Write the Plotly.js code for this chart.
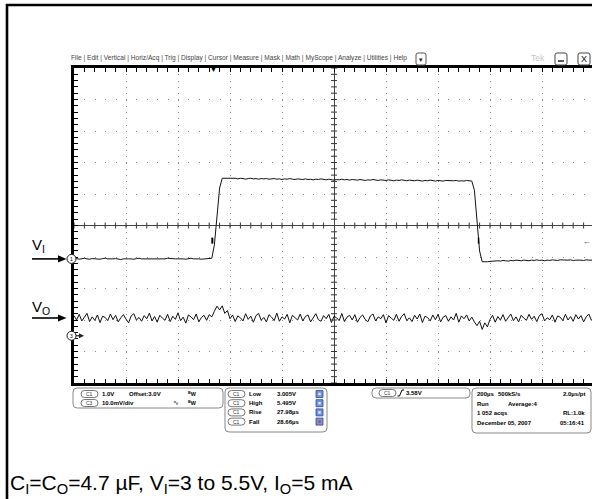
<!DOCTYPE html>
<html><head><meta charset="utf-8">
<script src="https://cdn.plot.ly/plotly-3.0.1.min.js"></script>
<style>html,body{margin:0;padding:0;background:#fff}#chart{width:592px;height:499px}</style>
</head><body><div id="chart"></div>
<script>
// ---- acquisition (sample clock) ----
const timeStart_us = -1000;
const sampleStep_us = 10;
const timePerDiv_us = 200;

// ---- channel 1 : V_I (volts) ----
const ch1Scale_VperDiv = 1.0;
const ch1Offset_V = 3.0;
const ch1_V = [
3.00,3.01,2.99,3.00,3.02,3.00,2.99,3.01,3.00,3.00,
2.99,3.01,3.02,3.00,2.99,3.00,3.01,3.00,2.98,3.00,
3.01,3.00,3.00,2.99,3.01,3.02,3.00,3.00,2.99,3.00,
3.01,3.00,2.99,3.00,3.01,3.00,3.02,3.01,2.99,3.00,
3.00,3.01,3.00,2.99,3.00,3.02,3.00,3.01,3.00,2.99,
3.00,3.01,3.00,
3.02,3.45,4.35,5.25,5.56,
5.56,5.55,5.57,5.55,5.56,5.54,5.56,5.55,5.53,5.55,
5.56,5.54,5.55,5.53,5.55,5.54,5.55,5.53,5.54,5.55,
5.53,5.54,5.52,5.54,5.53,5.55,5.53,5.52,5.54,5.53,
5.52,5.54,5.52,5.53,5.51,5.53,5.52,5.54,5.52,5.51,
5.53,5.52,5.50,5.52,5.51,5.53,5.51,5.52,5.50,5.52,
5.51,5.50,5.52,5.51,5.49,5.51,5.50,5.52,5.50,5.49,
5.51,5.50,5.49,5.51,5.50,5.48,5.50,5.49,5.51,5.49,
5.48,5.50,5.49,5.48,5.50,5.49,5.47,5.49,5.48,5.50,
5.48,5.47,5.49,5.48,5.47,5.49,5.48,5.47,5.48,5.49,
5.47,5.48,5.47,5.49,5.48,5.47,
5.18,4.25,3.25,2.91,
2.90,2.91,2.92,2.93,2.92,2.94,2.93,2.95,2.94,2.93,
2.95,2.94,2.96,2.95,2.94,2.96,2.95,2.94,2.96,2.95,
2.97,2.95,2.96,2.94,2.96,2.95,2.97,2.96,2.95,2.97,
2.96,2.95,2.96,2.97,2.95,2.96,2.97,2.96,2.95,2.97,
2.96,2.97,2.96
];

// ---- channel 3 : V_O (mV, AC coupled) ----
const ch3Scale_mVperDiv = 10.0;
const ch3_mV = [
0.8,-0.6,1.2,-0.9,0.3,1.5,-1.1,0.4,-0.7,1.0,
-1.4,0.6,0.2,-0.8,1.3,-0.5,0.9,-1.2,0.1,1.1,
-0.3,-1.5,0.7,1.4,-0.6,0.2,-1.0,0.8,-0.2,1.6,
-0.9,0.5,-1.3,0.9,0.0,-0.7,1.2,-1.1,0.6,-0.4,
1.7,-0.8,0.3,-1.6,1.0,0.4,-0.5,1.3,-1.2,0.2,
0.9,-0.7,1.1,
0.4,2.2,3.8,2.6,3.9,1.5,2.4,-0.2,
1.0,-1.1,0.7,0.1,-0.9,1.4,-0.4,0.6,-1.3,
0.8,1.5,-0.7,0.2,-1.2,1.1,0.3,-0.8,1.6,-1.0,
0.4,-0.3,1.2,-1.5,0.9,0.0,-0.6,1.3,-0.9,0.5,
1.0,-1.2,0.2,1.4,-0.5,-1.0,0.8,-0.2,1.2,-1.4,
0.6,0.1,-0.8,1.5,-1.1,0.3,0.9,-0.6,1.1,-1.3,
0.2,1.0,-0.4,-1.2,0.7,1.3,-0.9,0.4,-0.2,1.1,
-1.5,0.8,0.0,-0.7,1.2,-1.0,0.5,1.4,-0.8,0.1,
-1.1,0.9,-0.3,1.3,-1.4,0.6,0.2,-0.9,1.0,-0.5,
1.2,-1.2,0.3,0.8,-1.0,0.4,-0.6,1.5,-1.3,0.7,
-0.2,1.0,-0.9,0.3,
-1.2,-2.4,-1.0,-3.6,-1.5,-2.8,-0.4,
0.9,-1.3,0.5,-0.6,1.1,-1.0,0.2,1.3,-0.8,
0.4,-1.2,0.9,0.0,-0.7,1.2,-0.4,0.6,-1.1,0.8,
1.4,-0.9,0.1,-0.5,1.0,-1.3,0.7,0.3,-0.8,1.2,
-0.6,0.5,-1.0,1.1,-0.3,0.8,-1.2,0.4,1.3,-0.7,0.2
];

// ---- readouts ----
const menuItems = ['File','Edit','Vertical','Horiz/Acq','Trig','Display','Cursor','Measure','Mask','Math','MyScope','Analyze','Utilities','Help'];
const chanRows = [['C1','1.0V','Offset:3.0V'],['C3','10.0mV/div','']];
const measNames = ['Low','High','Rise','Fall'];
const measValues = ['3.005V','5.495V','27.98µs','28.66µs'];
const trigLevel = '3.58V';
const trigLevel_V = 3.58;
const acqLeft = ['200µs','Run','1 052 acqs','December 05, 2007'];
const acqMid = ['500kS/s','Average:4','',''];
const acqRight = ['2.0µs/pt','','RL:1.0k','05:16:41'];

// ---- geometry (display layout) ----
const W=592,H=499,L=74,T=68,Rr=592,B=383;
const PW=Rr-L, PH=B-T;
const ch1Pos_div=-1.06, ch3Pos_div=-2.94, ch3Marker_div=-3.5;
const xMax = timeStart_us + (Rr-L)/(520/10)*timePerDiv_us; // plot clipped at window edge

const FONT='Liberation Sans, Arial, sans-serif';
const X=px=>(px-L)/PW, Y=py=>(B-py)/PH;

const t=ch1_V.map((_,i)=>timeStart_us+i*sampleStep_us);
const t3=ch3_mV.map((_,i)=>timeStart_us+i*sampleStep_us);
const y1=ch1_V.map(v=>ch1Pos_div+(v-ch1Offset_V)/ch1Scale_VperDiv);
const y3=ch3_mV.map(v=>ch3Pos_div+v/ch3Scale_mVperDiv);

const traces=[
 {x:t,y:y1,mode:'lines',line:{color:'#111',width:1},hoverinfo:'skip'},
 {x:t3,y:y3,mode:'lines',line:{color:'#111',width:1},hoverinfo:'skip'}
];

const shapes=[], ann=[];
function seg(x0,y0,x1,y1,w,c){shapes.push({type:'line',xref:'paper',yref:'paper',x0:X(x0),y0:Y(y0),x1:X(x1),y1:Y(y1),line:{color:c||'#000',width:w||1},layer:'above'});}
function poly(pts,fill){shapes.push({type:'path',xref:'paper',yref:'paper',path:'M'+pts.map(p=>X(p[0])+','+Y(p[1])).join(' L')+' Z',fillcolor:fill,line:{width:0},layer:'above'});}
function rr(x0,y0,x1,y1,r,col,fill,w){
 const p=(a,b)=>X(a)+','+Y(b);
 const d='M'+p(x0+r,y0)+' L'+p(x1-r,y0)+' Q'+p(x1,y0)+' '+p(x1,y0+r)+' L'+p(x1,y1-r)+' Q'+p(x1,y1)+' '+p(x1-r,y1)+
   ' L'+p(x0+r,y1)+' Q'+p(x0,y1)+' '+p(x0,y1-r)+' L'+p(x0,y0+r)+' Q'+p(x0,y0)+' '+p(x0+r,y0)+' Z';
 shapes.push({type:'path',xref:'paper',yref:'paper',path:d,line:{color:col||'#777',width:w||1},fillcolor:fill||'rgba(0,0,0,0)',layer:'above'});
}
function txt(s,px,py,size,o){o=o||{};ann.push({xref:'paper',yref:'paper',x:X(px),y:Y(py),text:s,showarrow:false,
 xanchor:o.anchor||'left',yanchor:'middle',borderpad:0,font:{family:o.family||FONT,size:size,color:o.color||'#000',weight:o.bold?'bold':'normal'}});}

// outer frame of the figure
seg(7,4,7,499,2.6); seg(6,5,592,5,2.6);

// ticks on the centre cross
for(let k=-25;k<=25;k++){ if(k===0) continue;
 shapes.push({type:'line',xref:'x',yref:'y',xsizemode:'pixel',xanchor:0,x0:-3,x1:3,y0:k*0.2,y1:k*0.2,line:{color:'#333',width:1}});}
for(let tt=timeStart_us;tt<=xMax;tt+=timePerDiv_us/5){ if(tt===0) continue;
 shapes.push({type:'line',xref:'x',yref:'y',ysizemode:'pixel',yanchor:0,y0:-3,y1:3,x0:tt,x1:tt,line:{color:'#333',width:1}});}

// edge measurement marks
shapes.push({type:'line',xref:'x',yref:'y',ysizemode:'pixel',yanchor:ch1Pos_div+(trigLevel_V-ch1Offset_V),y0:-3,y1:3,x0:-468,x1:-468,line:{color:'#000',width:2}});
shapes.push({type:'line',xref:'x',yref:'y',ysizemode:'pixel',yanchor:ch1Pos_div+(trigLevel_V-ch1Offset_V),y0:-3,y1:3,x0:556,x1:556,line:{color:'#000',width:1.5}});

// menu bar
txt(menuItems.join(' | '),70,58,6.6,{color:'#444'});
rr(416,53,426,65,2,'#555');
txt('▾',421,59,7,{anchor:'center',color:'#222'});
txt('Tek',530,58,8.5,{color:'#c4c4c4'});
rr(555,53,567,65,2,'#444'); seg(558,61,564,61,1.5,'#222');
rr(578,53,590,65,2,'#444'); txt('X',584,59,9,{anchor:'center',color:'#111'});

// trigger position and level markers
txt('▼',213,69,7,{anchor:'center'});
txt('←',587,241,8,{anchor:'center',color:'#222'});

// channel ground markers
const m1y=B-(ch1Pos_div+5)*PH/10, m3y=B-(ch3Marker_div+5)*PH/10;
shapes.push({type:'circle',xref:'paper',yref:'paper',x0:X(67),x1:X(76),y0:Y(m1y-4.5),y1:Y(m1y+4.5),line:{color:'#222',width:1},fillcolor:'#fff',layer:'above'});
shapes.push({type:'circle',xref:'paper',yref:'paper',x0:X(67),x1:X(76),y0:Y(m3y-4.5),y1:Y(m3y+4.5),line:{color:'#222',width:1},fillcolor:'#fff',layer:'above'});
txt('1',71.5,m1y,5,{anchor:'center'}); txt('3',71.5,m3y,5,{anchor:'center'});
seg(76,m3y,80,m3y,1.2,'#222'); poly([[79,m3y-2.5],[84,m3y],[79,m3y+2.5]],'#222');

// V_I / V_O labels with arrows
txt('V<sub>I</sub>',31,245,15);
txt('V<sub>O</sub>',31,307,15);
[m1y,318].forEach(yy=>{seg(32,yy,60,yy,1.6); poly([[58,yy-3.6],[66.5,yy],[58,yy+3.6]],'#000');});

// readout panels
const FS=6;
rr(73,388,223,408,4,'#888');
chanRows.forEach((r,i)=>{const yy=394+i*9; rr(81,yy-3.5,98,yy+3.5,3.5,'#555','#fff',0.8); txt(r[0],89.5,yy,5,{anchor:'center',color:'#333'});
 txt(r[1],101,yy,FS,{bold:true}); if(r[2]) txt(r[2],128,yy,FS,{bold:true});
 txt('<sup>B</sup>W',187,yy,5.4,{bold:true});});
txt('∿',172,403,7,{family:'DejaVu Sans'});

rr(225,388,327,432,4,'#888');
measNames.forEach((n,i)=>{const yy=394+i*9.2; rr(228,yy-3.5,245,yy+3.5,3.5,'#555','#fff',0.8); txt('C1',236.5,yy,5,{anchor:'center',color:'#333'});
 txt(n,248,yy,FS,{bold:true}); txt(measValues[i],276,yy,FS,{bold:true});
 shapes.push({type:'rect',xref:'paper',yref:'paper',x0:X(316),x1:X(323),y0:Y(yy-3.5),y1:Y(yy+3.5),line:{color:'#2b4a9a',width:0.8},fillcolor:i===3?'#7f8fd8':'#6f92db',layer:'above'});
 shapes.push({type:'rect',xref:'paper',yref:'paper',x0:X(318.3),x1:X(320.7),y0:Y(yy-1.2),y1:Y(yy+1.2),line:{width:0},fillcolor:i===3?'#d04040':'#e8eefc',layer:'above'});});

rr(372,388,470,398,4,'#888');
rr(379,389.5,396,396.5,3.5,'#555','#fff',0.8); txt('C1',387.5,393,5,{anchor:'center',color:'#333'});
shapes.push({type:'path',xref:'paper',yref:'paper',path:'M'+X(397.5)+','+Y(396)+' L'+X(399.5)+','+Y(396)+' L'+X(402)+','+Y(390)+' L'+X(404)+','+Y(390),line:{color:'#000',width:1},layer:'above'});
txt(trigLevel,405,393,FS,{bold:true});

rr(472,388,591,433,4,'#888');
acqLeft.forEach((s,i)=>{const yy=394+i*9.5; txt(s,476,yy,FS,{bold:true}); if(acqMid[i]) txt(acqMid[i],i===0?497:507,yy,FS,{bold:true}); if(acqRight[i]) txt(acqRight[i],586,yy,FS,{bold:true,anchor:'right'});});

// caption
txt('C<sub>I</sub>=C<sub>O</sub>=4.7 µF, V<sub>I</sub>=3 to 5.5V, I<sub>O</sub>=5 mA',9,484,21);

const layout={width:W,height:H,margin:{l:L,r:W-Rr,t:T,b:H-B,pad:0},paper_bgcolor:'#fff',plot_bgcolor:'#fff',showlegend:false,
 xaxis:{range:[timeStart_us,xMax],dtick:timePerDiv_us,tick0:0,showticklabels:false,ticks:'inside',ticklen:4,tickcolor:'#000',tickwidth:1,
   minor:{dtick:timePerDiv_us/5,ticks:'inside',ticklen:4,tickcolor:'#000',showgrid:false},
   showgrid:true,gridcolor:'#8a8a8a',gridwidth:1,griddash:'1px,5.3px',zeroline:true,zerolinecolor:'#444',zerolinewidth:1,
   showline:true,linecolor:'#000',linewidth:2.6,mirror:'allticks',fixedrange:true},
 yaxis:{range:[-5,5],dtick:1,tick0:0,showticklabels:false,ticks:'inside',ticklen:4,tickcolor:'#000',tickwidth:1,
   minor:{dtick:0.2,ticks:'inside',ticklen:4,tickcolor:'#000',showgrid:false},
   showgrid:true,gridcolor:'#8a8a8a',gridwidth:1,griddash:'1px,9.4px',zeroline:true,zerolinecolor:'#444',zerolinewidth:1,
   showline:true,linecolor:'#000',linewidth:2.6,mirror:false,fixedrange:true},
 shapes:shapes,annotations:ann};
Plotly.newPlot('chart',traces,layout,{staticPlot:true,displayModeBar:false});
</script></body></html>
